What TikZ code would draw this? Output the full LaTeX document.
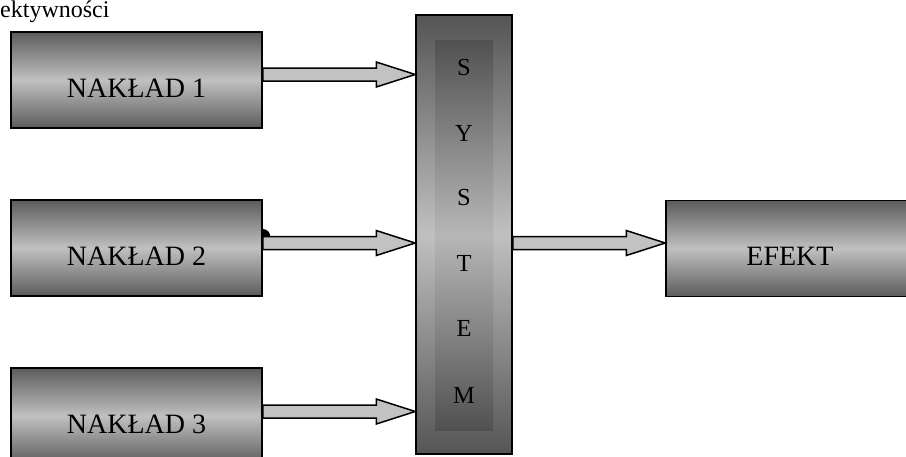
\documentclass[tikz,border=0pt]{standalone}
\usepackage{fontspec}
\setmainfont{Liberation Serif}
\usetikzlibrary{calc}
\definecolor{boxdark}{RGB}{92,92,92}
\definecolor{boxlight}{RGB}{192,192,192}
\definecolor{arrowfill}{RGB}{194,194,194}
\tikzset{
 box/.style={draw=black, line width=1.5pt, inner sep=0pt, top color=boxdark, bottom color=boxdark, middle color=boxlight, minimum width=251pt, minimum height=96pt, font=\fontsize{28}{30}\selectfont, text height=34pt, text depth=0pt},
 sysbox/.style={draw=black, line width=1.5pt, inner sep=0pt, top color=boxdark!92!black, bottom color=boxdark!92!black, middle color=boxlight, minimum width=96pt, minimum height=439pt},
 inbox/.style={inner sep=0pt, top color=boxdark!88!black, bottom color=boxdark!88!black, middle color=boxlight!95!black, minimum width=58pt, minimum height=390pt},
 fat/.style={draw=black, line width=1.5pt, fill=arrowfill, line join=miter},
 letter/.style={font=\fontsize{24.5}{26}\selectfont, inner sep=0pt},
 toptext/.style={font=\fontsize{24}{26}\selectfont, inner sep=0pt},
}
\newcommand\fatarrow[2]{%
 \draw[fat] let \p1=(#1), \p2=(#2) in
 (\x1,\y1+6.5pt) -- (\x2-39pt,\y1+6.5pt) -- (\x2-39pt,\y1+12.5pt) -- (\x2,\y1)
 -- (\x2-39pt,\y1-12.5pt) -- (\x2-39pt,\y1-6.5pt) -- (\x1,\y1-6.5pt) -- cycle;}
\begin{document}
\begin{tikzpicture}[x=1pt,y=-1pt]
\useasboundingbox (0,0) rectangle (906,456);
\clip (0,0) rectangle (906,456);
\fill[white] (0,0) rectangle (906,456);
% top text
\node[toptext, anchor=base west] (tt) at (0,17) {ektywności};
% boxes
\node[box] (n1) at (136.5,80) {NAKŁAD 1};
\node[box] (n2) at (136.5,248) {NAKŁAD 2};
\node[box] (n3) at (136.5,416) {NAKŁAD 3};
\node[box, minimum width=248pt] (ef) at (790,248.5) {EFEKT};
\node[sysbox] (sys) at (464,234.5) {};
\node[inbox] (sysin) at (464,235) {};
% letters
\node[letter] (l1) at (464,68) {S};
\node[letter] (l2) at (464,133) {Y};
\node[letter] (l3) at (464,198) {S};
\node[letter] (l4) at (464,263) {T};
\node[letter] (l5) at (464,328) {E};
\node[letter] (l6) at (464,395) {M};
% arrow coordinates
\coordinate (a1s) at ($(n1.east)+(0,-5.5)$);
\coordinate (a1e) at (sys.west |- a1s);
\coordinate (a2s) at ($(n2.east)+(0,-5)$);
\coordinate (a2e) at (sys.west |- a2s);
\coordinate (a3s) at ($(n3.east)+(0,-4.5)$);
\coordinate (a3e) at (sys.west |- a3s);
\coordinate (a4s) at (sys.east |- a2s);
\coordinate (a4e) at (ef.west |- a2s);
\fatarrow{a1s}{a1e}
\fatarrow{a2s}{a2e}
\fatarrow{a3s}{a3e}
\fatarrow{a4s}{a4e}
% small blob
\fill[black] ($(a2s)+(7.5,-6.5)$) arc[start angle=0, end angle=-90, radius=7.5] -- ($(a2s)+(0,-6.5)$) -- cycle;
\end{tikzpicture}
\end{document}
